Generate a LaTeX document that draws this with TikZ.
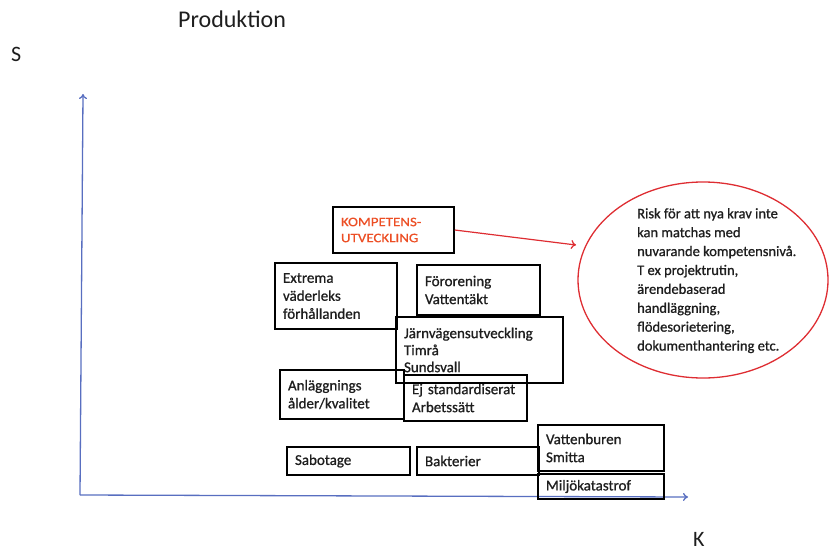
\documentclass[tikz,border=0pt]{standalone}
\usepackage{fontspec}
\setmainfont{Carlito}
\newfontfamily\heavyfont{Carlito}[FakeBold=0.9]
\newfontfamily\widefont{Carlito}[FakeStretch=1.15,FakeBold=0.6]
\usetikzlibrary{arrows.meta,shapes.geometric}
\definecolor{axisblue}{RGB}{88,110,192}
\definecolor{riskred}{RGB}{222,45,50}
\definecolor{kompred}{RGB}{236,78,36}
\definecolor{inktext}{RGB}{30,30,30}
\tikzset{
  box/.style={draw=black, line width=1.5pt, inner xsep=8pt, inner ysep=0pt,
    align=left, text=inktext, font=\heavyfont\fontsize{15}{18}\selectfont},
  axis/.style={draw=axisblue, line width=1.3pt, -{To[length=5pt,width=8pt]}},
  label/.style={inner sep=0pt, text=inktext}
}
\begin{document}
\begin{tikzpicture}[x=1pt,y=-1pt]
\useasboundingbox (0,0) rectangle (829,551);

% titles and axis letters
\node[label, anchor=base west, font=\fontsize{24}{28}\selectfont] (title) at (178,28) {Produktion};
\node[label, anchor=base west, font=\fontsize{22}{26}\selectfont] (sLabel) at (11,62) {S};
\node[label, anchor=base west, font=\fontsize{22}{26}\selectfont] (kLabel) at (693,546) {K};

% axes
\coordinate (origin) at (80,495);
\coordinate (yTop) at (83,94);
\coordinate (xEnd) at (688,497);
\draw[axis] (origin) -- (yTop);
\draw[axis] (origin) -- (xEnd);

% risk boxes
\node[box, text=kompred, minimum height=46pt, text width=105pt,
      font=\widefont\fontsize{13}{16}\selectfont] (komp) at (393.5,230) {KOMPETENS-\\UTVECKLING};
\node[box, minimum height=66pt, text width=106pt] (extrema) at (336,296) {Extrema\\väderleks\\förhållanden};
\node[box, minimum height=50pt, text width=107pt] (fororening) at (478.5,290) {Förorening\\Vattentäkt};
\node[box, minimum height=46pt, text width=107pt] (ejstand) at (465.5,398) {Ej standardiserat\\Arbetssätt};
\node[box, minimum height=66pt, text width=151pt, font=\heavyfont\fontsize{15}{17}\selectfont] (jarnvag) at (479.5,350) {Järnvägensutveckling\\Timrå\\Sundsvall};
\node[box, minimum height=49pt, text width=108pt] (anlagg) at (342,394.5) {Anläggnings\\ålder/kvalitet};
\node[box, minimum height=28pt, text width=107pt] (sabotage) at (348.5,461) {Sabotage};
\node[box, minimum height=28pt, text width=106pt] (bakterier) at (478,461) {Bakterier};
\node[box, minimum height=46pt, text width=110pt] (vatten) at (601,448) {Vattenburen\\Smitta};
\node[box, minimum height=25pt, text width=110pt] (miljo) at (601,486.5) {Miljökatastrof};

% risk ellipse with its note
\node[ellipse, draw=riskred, line width=1.3pt, minimum width=250pt, minimum height=196pt] (risk) at (703,280) {};
\node[label, anchor=north west, align=left, font=\heavyfont\fontsize{14.5}{18.9}\selectfont] (riskText) at (637,208)
  {Risk för att nya krav inte\\kan matchas med\\nuvarande kompetensnivå.\\T ex projektrutin,\\ärendebaserad\\handläggning,\\flödesorietering,\\dokumenthantering etc.};

\coordinate (riskTip) at (576,245);
\draw[draw=riskred, line width=1.2pt, -{To[length=5pt,width=9pt]}] (komp.east) -- (riskTip);
\end{tikzpicture}
\end{document}
